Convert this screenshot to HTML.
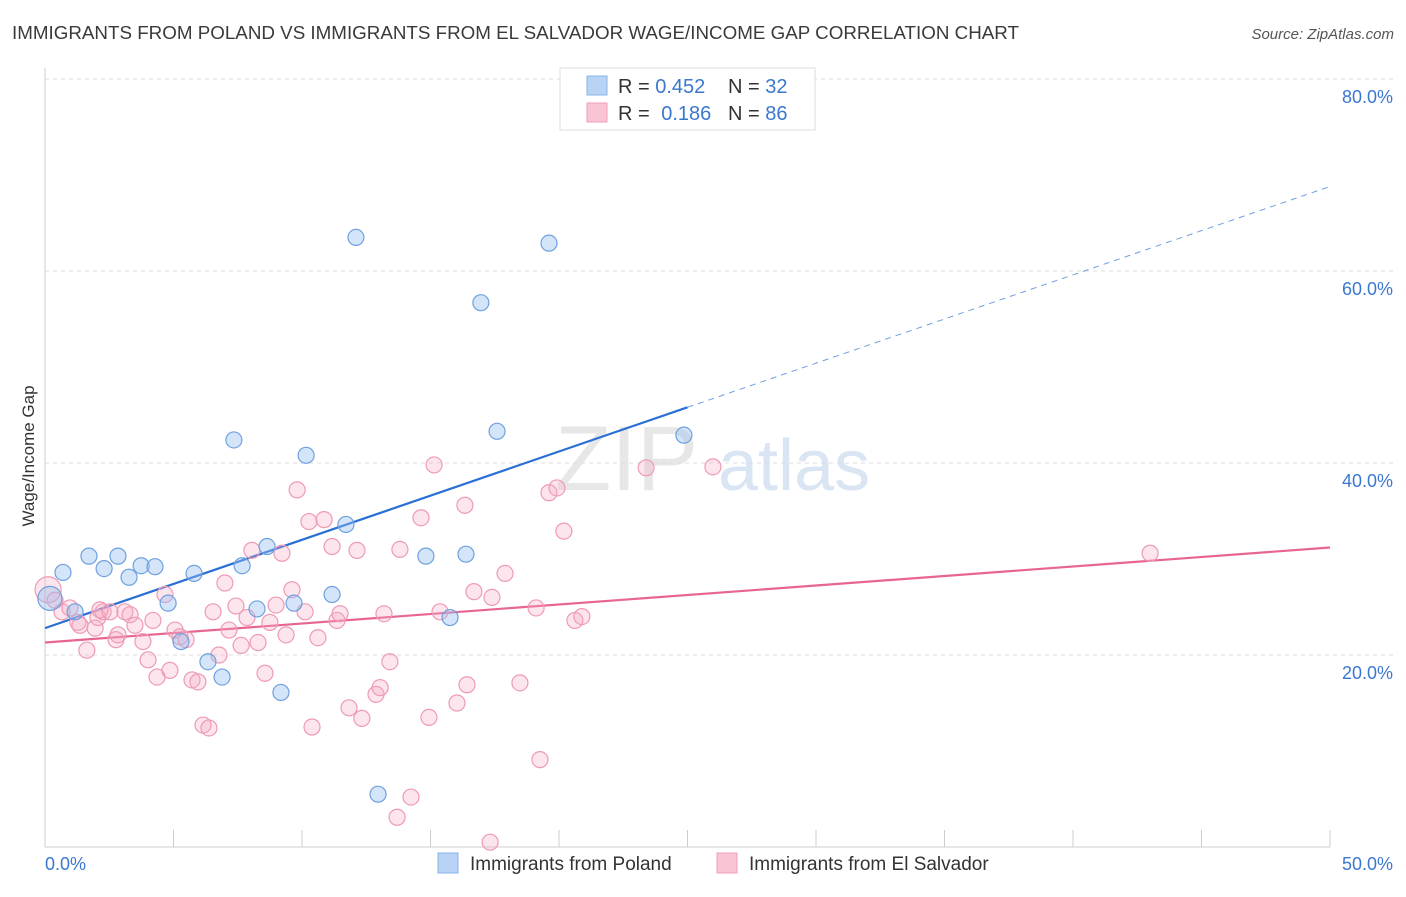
<!DOCTYPE html>
<html><head><meta charset="utf-8"><style>
body{margin:0;background:#fff;font-family:"Liberation Sans",sans-serif;}
svg text{font-family:"Liberation Sans",sans-serif;}
</style></head><body>
<svg id="chart" width="1406" height="892" xmlns="http://www.w3.org/2000/svg">
<text x="12" y="39" font-size="18.8" fill="#3a3a3a">IMMIGRANTS FROM POLAND VS IMMIGRANTS FROM EL SALVADOR WAGE/INCOME GAP CORRELATION CHART</text>
<text x="1394" y="39" font-size="15" fill="#555" font-style="italic" text-anchor="end">Source: ZipAtlas.com</text>
<text transform="translate(34,456) rotate(-90)" font-size="17" fill="#333" text-anchor="middle">Wage/Income Gap</text>
<g><text x="555" y="490" font-size="92" fill="#ddd" font-family="Liberation Serif" opacity="0.7">ZIP</text><text x="718" y="490" font-size="72" fill="#c9dbef" opacity="0.7">atlas</text></g>
<g id="grid"></g><g id="axes"></g><g id="lines"></g><g id="pts"></g>
<g>
<rect x="560" y="68" width="255" height="62" fill="#fff" stroke="#ddd"/>
<rect x="587" y="76" width="20" height="19" fill="#b8d3f5" stroke="#8ab4e8"/>
<rect x="587" y="103" width="20" height="19" fill="#f9c5d4" stroke="#f0a0b8"/>
<text x="618" y="93" font-size="20" fill="#333">R = <tspan fill="#3a78d0">0.452</tspan><tspan x="728">N = </tspan><tspan fill="#3a78d0">32</tspan></text>
<text x="618" y="120" font-size="20" fill="#333">R = <tspan fill="#3a78d0" dx="6">0.186</tspan><tspan x="728">N = </tspan><tspan fill="#3a78d0">86</tspan></text>
</g>
<g>
<rect x="438" y="853" width="20" height="20" fill="#b8d3f5" stroke="#8ab4e8"/>
<text x="470" y="870" font-size="19" fill="#333">Immigrants from Poland</text>
<rect x="717" y="853" width="20" height="20" fill="#f9c5d4" stroke="#f0a0b8"/>
<text x="749" y="870" font-size="19" fill="#333">Immigrants from El Salvador</text>
</g>
</svg>
<script>
const xTicks=[0,5,10,15,20,25,30,35,40,45,50];
const yTicks=[20,40,60,80];
const blueX=[0.19,0.70,1.17,1.71,2.30,2.84,3.27,3.74,4.28,4.79,5.29,5.80,6.34,6.89,7.35,7.67,8.25,8.64,9.18,9.69,10.16,11.17,11.71,12.10,12.96,14.82,15.76,16.38,16.96,17.59,19.61,24.86];
const blueY=[25.9,28.6,24.5,30.3,29.0,30.3,28.1,29.3,29.2,25.4,21.4,28.5,19.3,17.7,42.4,29.3,24.8,31.3,16.1,25.4,40.8,26.3,33.6,63.5,5.5,30.3,23.9,30.5,56.7,43.3,62.9,42.9];
const pinkX=[0.12,0.39,0.66,0.97,1.28,1.36,1.63,1.95,2.06,2.26,2.53,2.76,2.84,3.11,3.31,3.50,3.81,4.01,4.20,4.36,4.67,4.86,5.06,5.25,5.49,5.72,5.95,6.15,6.38,6.54,6.77,7.00,7.16,7.43,7.63,7.86,8.05,8.29,8.56,8.75,8.99,9.22,9.38,9.61,9.81,10.12,10.27,10.39,10.62,10.86,11.17,11.36,11.48,11.83,12.14,12.33,12.88,13.04,13.19,13.42,13.70,13.81,14.24,14.63,14.94,15.14,15.37,16.03,16.34,16.42,16.69,17.39,17.90,18.48,19.11,19.26,19.61,19.92,20.19,20.62,20.89,23.39,25.99,43.00,17.32,2.14];
const pinkY=[26.8,25.7,24.5,24.9,23.4,23.1,20.5,22.8,23.9,24.5,24.5,21.6,22.1,24.5,24.2,23.1,21.4,19.5,23.6,17.7,26.3,18.4,22.6,21.9,21.6,17.4,17.2,12.7,12.4,24.5,20.0,27.5,22.6,25.1,21.0,23.9,30.9,21.3,18.1,23.4,25.2,30.6,22.1,26.8,37.2,24.5,33.9,12.5,21.8,34.1,31.3,23.6,24.3,14.5,30.9,13.4,15.9,16.6,24.3,19.3,3.1,31.0,5.2,34.3,13.5,39.8,24.5,15.0,35.6,16.9,26.6,26.0,28.5,17.1,24.9,9.1,36.9,37.4,32.9,23.6,24.0,39.5,39.6,30.6,0.5,24.7];
const blueTrend=[[0,22.8],[25,45.8],[50,68.8]];
const pinkTrend=[[0,21.3],[50,31.2]];
const NS='http://www.w3.org/2000/svg';
const X=v=>45+v*25.7, Y=v=>847-v*9.6;
function mk(t,a,p){const e=document.createElementNS(NS,t);for(const k in a)e.setAttribute(k,a[k]);p.appendChild(e);return e;}
const grid=document.getElementById('grid'),axes=document.getElementById('axes'),lines=document.getElementById('lines'),pts=document.getElementById('pts');
yTicks.forEach(t=>{
 const l=mk('line',{x1:45,x2:1394,y1:Y(t),y2:Y(t),stroke:'#ddd','stroke-dasharray':'4,4'},grid);
 
 
 const tx=mk('text',{x:1393,y:Y(t)+24,'font-size':18,fill:'#3a78d0','text-anchor':'end'},axes);tx.textContent=t.toFixed(1)+'%';
 
 
});
mk('line',{x1:45,x2:45,y1:68,y2:847,stroke:'#ccc'},axes);
mk('line',{x1:45,x2:1330,y1:847,y2:847,stroke:'#ccc'},axes);
xTicks.forEach(t=>{const l=mk('line',{x1:X(t),x2:X(t),y1:830,y2:847,stroke:'#ccc'},axes);
 
 });
const x0=mk('text',{x:45,y:870,'font-size':18,fill:'#3a78d0'},axes);x0.textContent=xTicks[0].toFixed(1)+'%';


const x1=mk('text',{x:1393,y:870,'font-size':18,fill:'#3a78d0','text-anchor':'end'},axes);x1.textContent=xTicks[xTicks.length-1].toFixed(1)+'%';


pinkX.forEach((x,i)=>{const c=mk('circle',{cx:X(x),cy:Y(pinkY[i]),r:i==0?13:8,fill:'rgba(246,170,195,0.3)',stroke:'#ee9ab5','stroke-width':1.2},pts);
 
 });
blueX.forEach((x,i)=>{const c=mk('circle',{cx:X(x),cy:Y(blueY[i]),r:i==0?12:8,fill:'rgba(150,190,240,0.4)',stroke:'#6fa0e0','stroke-width':1.2},pts);
 
 });
const b1=mk('line',{x1:X(blueTrend[0][0]),y1:Y(blueTrend[0][1]),x2:X(blueTrend[1][0]),y2:Y(blueTrend[1][1]),stroke:'#2a6fd6','stroke-width':2.2},lines);


const b2=mk('line',{x1:X(blueTrend[1][0]),y1:Y(blueTrend[1][1]),x2:X(blueTrend[2][0]),y2:Y(blueTrend[2][1]),stroke:'#6f9fe0','stroke-width':1,'stroke-dasharray':'6,5'},lines);


const p1=mk('line',{x1:X(pinkTrend[0][0]),y1:Y(pinkTrend[0][1]),x2:X(pinkTrend[1][0]),y2:Y(pinkTrend[1][1]),stroke:'#e8658f','stroke-width':2.2},lines);


</script>
</body></html>
